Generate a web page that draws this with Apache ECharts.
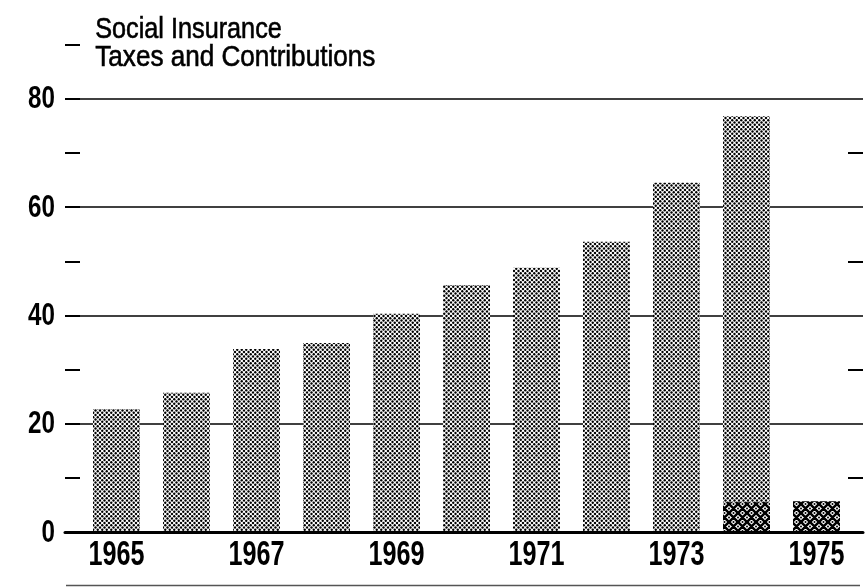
<!DOCTYPE html>
<html>
<head>
<meta charset="utf-8">
<script src="https://cdn.jsdelivr.net/npm/echarts@6/dist/echarts.min.js"></script>
<style>
html,body{margin:0;padding:0;background:#fff;}
#c{width:865px;height:587px;}
</style>
</head>
<body>
<div id="c"></div>
<script>
const years = ['1965','1966','1967','1968','1969','1970','1971','1972','1973','1974','1975'];
const socialInsurance = [22.7, 25.7, 33.8, 34.9, 40.3, 45.6, 48.8, 53.6, 64.5, 76.8, null];
const darkPortion = [null, null, null, null, null, null, null, null, null, 5.5, 5.7];
const xTickLabels = ['1965', '1967', '1969', '1971', '1973', '1975'];
const yTickValues = [0, 20, 40, 60, 80, 100];
const yTickLabels = ['0', '20', '40', '60', '80', '100'];
const yMin = 0, yMax = 100, yStep = 20, yRightMax = 80;
const titleLines = ['Social Insurance', 'Taxes and Contributions'];

const FONT = "'Liberation Sans', Arial, sans-serif";

function dotPattern() {
  const w = 9, h = 9, r = 1.2;
  const c = document.createElement('canvas');
  c.width = w; c.height = h;
  const g = c.getContext('2d');
  g.fillStyle = '#fff'; g.fillRect(0, 0, w, h);
  g.fillStyle = '#000';
  const pts = [];
  for (let row = -1; row <= 4; row++) {
    const y = row * 2.25;
    const off = (row % 2 === 0) ? 0 : 2.25;
    for (let col = -1; col <= 2; col++) pts.push([off + col * 4.5, y]);
  }
  pts.forEach(p => { g.beginPath(); g.arc(p[0] + 1, p[1] + 1, r, 0, Math.PI * 2); g.fill(); });
  return c;
}
function hatchPattern() {
  const s = 9;
  const c = document.createElement('canvas');
  c.width = s; c.height = s;
  const g = c.getContext('2d');
  g.fillStyle = '#fff'; g.fillRect(0, 0, s, s);
  g.strokeStyle = '#000'; g.lineWidth = 2.6;
  g.beginPath();
  for (let k = -1; k <= 1; k++) {
    g.moveTo(k * s, 0); g.lineTo(k * s + s, s);
    g.moveTo(k * s + s, 0); g.lineTo(k * s, s);
  }
  g.stroke();
  g.fillStyle = '#000';
  [[s / 2, 0], [s / 2, s], [0, s / 2], [s, s / 2]].forEach(p => {
    g.beginPath(); g.arc(p[0], p[1], 1.0, 0, Math.PI * 2); g.fill();
  });
  return c;
}

const chart = echarts.init(document.getElementById('c'), null, {renderer: 'canvas'});
const gridTop = -9.5, gridBottom = 55;
const rightTop = 532 - (532 - gridTop) * yRightMax / yMax;
chart.setOption({
  animation: false,
  backgroundColor: '#fff',
  grid: [
    {left: 65, right: 2, top: gridTop, bottom: gridBottom, outerBoundsMode: 'none', containLabel: false},
    {left: 81.5, right: 13.5, top: gridTop, bottom: gridBottom, outerBoundsMode: 'none', containLabel: false},
    {left: 65, right: 2, top: rightTop, bottom: gridBottom, outerBoundsMode: 'none', containLabel: false}
  ],
  xAxis: [
    {gridIndex: 0, type: 'value', min: 0, max: 1, z: 5,
     axisLine: {show: true, onZero: false, lineStyle: {color: '#000', width: 3}},
     axisTick: {show: false}, axisLabel: {show: false}, splitLine: {show: false}},
    {gridIndex: 1, type: 'category', data: years,
     axisLine: {show: false}, axisTick: {show: false}, axisLabel: {show: false}},
    {gridIndex: 2, type: 'value', min: 0, max: 1, show: false}
  ],
  yAxis: [
    {gridIndex: 0, type: 'value', min: yMin, max: yMax, interval: yStep,
     axisLine: {show: false, onZero: false},
     axisTick: {show: true, inside: true, length: 15, lineStyle: {color: '#000', width: 2}},
     minorTick: {show: true, splitNumber: 2, length: 15, lineStyle: {color: '#000', width: 2}},
     axisLabel: {show: false},
     splitLine: {show: true, lineStyle: {color: '#000', width: 1.5}}},
    {gridIndex: 2, type: 'value', position: 'right', min: yMin, max: yRightMax, interval: yStep,
     axisLine: {show: false, onZero: false},
     axisTick: {show: false, inside: true},
     minorTick: {show: true, splitNumber: 2, length: 15, lineStyle: {color: '#000', width: 2}},
     axisLabel: {show: false}, splitLine: {show: false}},
    {gridIndex: 1, type: 'value', min: yMin, max: yMax, show: false}
  ],
  series: [
    {type: 'bar', xAxisIndex: 1, yAxisIndex: 2, data: socialInsurance, barWidth: 47, barGap: '-100%',
     itemStyle: {color: {image: dotPattern(), repeat: 'repeat'}}},
    {type: 'bar', xAxisIndex: 1, yAxisIndex: 2, data: darkPortion, barWidth: 47, barGap: '-100%',
     itemStyle: {color: {image: hatchPattern(), repeat: 'repeat'}}},
    {type: 'custom', xAxisIndex: 1, yAxisIndex: 2, clip: false, silent: true, z: 10,
     data: xTickLabels.map(l => [l, 0]),
     renderItem: function (params, api) {
       const pt = api.coord([api.value(0), 0]);
       return {type: 'text', x: pt[0], y: pt[1] + 23.5, scaleX: 0.72,
         style: {text: xTickLabels[params.dataIndex], font: 'bold 35px ' + FONT,
                 fill: '#000', align: 'center', verticalAlign: 'middle'}};
     }},
    {type: 'custom', xAxisIndex: 0, yAxisIndex: 0, clip: false, silent: true, z: 10,
     data: yTickValues.map(v => [0, v]),
     renderItem: function (params, api) {
       const pt = api.coord([0, api.value(1)]);
       return {type: 'text', x: pt[0] - 10, y: pt[1] + 1, scaleX: 0.78,
         style: {text: yTickLabels[params.dataIndex], font: 'bold 31px ' + FONT,
                 fill: '#000', align: 'right', verticalAlign: 'middle'}};
     }}
  ],
  graphic: [
    {type: 'text', left: 95, top: 15, scaleX: 0.87, silent: true,
     style: {text: titleLines[0], font: '29px ' + FONT, fill: '#000', stroke: '#000', lineWidth: 0.6}},
    {type: 'text', left: 95, top: 43, scaleX: 0.9, silent: true,
     style: {text: titleLines[1], font: '29px ' + FONT, fill: '#000', stroke: '#000', lineWidth: 0.6}},
    {type: 'line', shape: {x1: 66, y1: 585.5, x2: 860, y2: 585.5}, style: {stroke: '#555', lineWidth: 1.5}, silent: true}
  ]
});
</script>
</body>
</html>
